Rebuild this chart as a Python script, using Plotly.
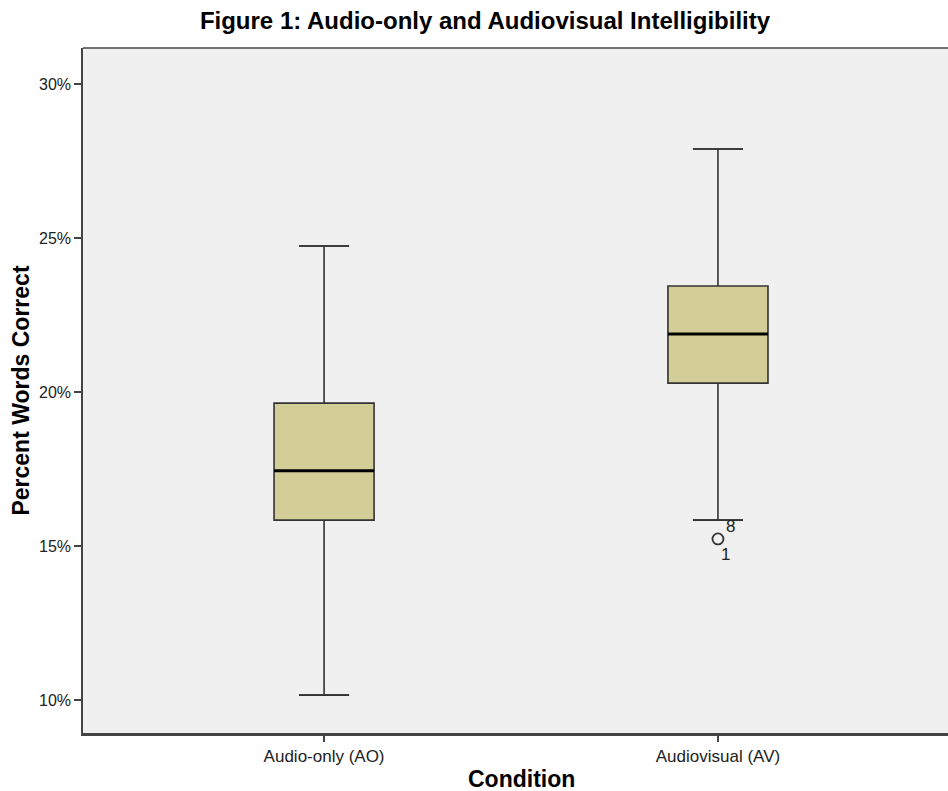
import plotly.graph_objects as go

# Summary statistics (proportion of words correct) per listening condition
conditions = ["Audio-only (AO)", "Audiovisual (AV)"]
lower_whisker = [0.1016, 0.1584]
q1_vals = [0.1584, 0.2029]
median_vals = [0.1744, 0.2188]
q3_vals = [0.1964, 0.2344]
upper_whisker = [0.2474, 0.2789]

# Outlier in the AV condition with its case labels
outlier_x = [1]
outlier_y = [0.1523]
outlier_ids = ["8", "1"]

positions = [0, 1]
box_half = 0.127
cap_half = 0.0635
edge = "#333333"
fill = "#D3CE98"
font_family = "Liberation Sans, Arial, sans-serif"

fig = go.Figure()

fig.add_trace(go.Box(
    x=positions,
    q1=q1_vals, median=median_vals, q3=q3_vals,
    lowerfence=lower_whisker, upperfence=upper_whisker,
    width=2 * box_half,
    fillcolor=fill,
    line=dict(color=edge, width=1.6),
    boxpoints=False,
    hoverinfo="skip",
    showlegend=False,
))

# Whisker caps and heavier median lines
for p, lo, hi, med in zip(positions, lower_whisker, upper_whisker, median_vals):
    for v in (lo, hi):
        fig.add_trace(go.Scatter(
            x=[p - cap_half, p + cap_half], y=[v, v], mode="lines",
            line=dict(color=edge, width=1.6), showlegend=False, hoverinfo="skip"))
    fig.add_trace(go.Scatter(
        x=[p - box_half, p + box_half], y=[med, med], mode="lines",
        line=dict(color="#000000", width=3), showlegend=False, hoverinfo="skip"))

fig.add_trace(go.Scatter(
    x=outlier_x, y=outlier_y, mode="markers",
    marker=dict(symbol="circle-open", size=11, color=edge, line=dict(width=1.8)),
    showlegend=False, hoverinfo="skip"))

fig.add_annotation(x=outlier_x[0], y=outlier_y[0], text=outlier_ids[0],
                   showarrow=False, xshift=13, yshift=12,
                   font=dict(family=font_family, size=17, color="#222"))
fig.add_annotation(x=outlier_x[0], y=outlier_y[0], text=outlier_ids[1],
                   showarrow=False, xshift=8, yshift=-16,
                   font=dict(family=font_family, size=17, color="#222"))

# x-axis title placed as an annotation below the tick labels
fig.add_annotation(text="<b>Condition</b>", xref="paper", yref="paper",
                   x=(521 - 83) / 865, y=(733 - 779) / 685,
                   xanchor="center", yanchor="middle", showarrow=False,
                   font=dict(family=font_family, size=23, color="#000"))

fig.update_layout(
    width=948, height=791,
    margin=dict(l=83, r=0, t=48, b=58),
    paper_bgcolor="white",
    plot_bgcolor="#F0F0F0",
    font=dict(family=font_family, size=16, color="#222"),
    title=dict(text="<b>Figure 1: Audio-only and Audiovisual Intelligibility</b>",
               x=485 / 948, xanchor="center", y=1 - 21 / 791, yanchor="middle",
               font=dict(size=24, color="#000")),
    xaxis=dict(
        range=[-0.612, 1.584],
        tickvals=positions, ticktext=conditions,
        showgrid=False, zeroline=False, automargin=False,
        showline=True, linecolor="#444", linewidth=2.5,
        ticks="outside", ticklen=6, tickcolor="#444", tickwidth=1.5,
        tickfont=dict(size=17, color="#222"),
    ),
    yaxis=dict(
        range=[0.08929, 0.31169],
        tickvals=[0.10, 0.15, 0.20, 0.25, 0.30],
        tickformat=".0%",
        showgrid=False, zeroline=False, automargin=False,
        showline=True, linecolor="#444", linewidth=1.5, mirror=False,
        ticks="outside", ticklen=7, tickcolor="#444", tickwidth=1.5,
        tickfont=dict(size=16, color="#222"),
        title=dict(text="<b>Percent Words Correct</b>", font=dict(size=23, color="#000"), standoff=3),
    ),
    shapes=[dict(type="line", xref="paper", yref="paper", x0=0, x1=1, y0=1, y1=1,
                 line=dict(color="#444", width=1.5))],
)

fig.write_html("out.html")
